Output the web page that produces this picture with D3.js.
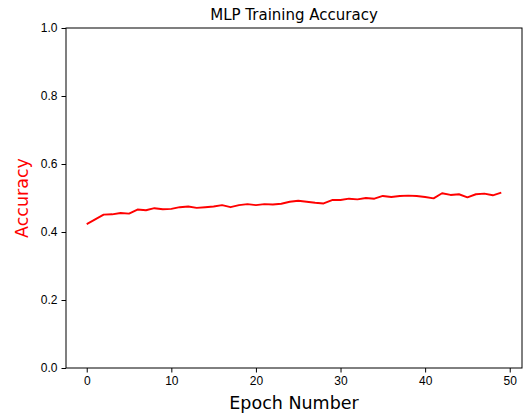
<!DOCTYPE html>
<html>
<head>
<meta charset="utf-8" />
<title>MLP Training Accuracy</title>
<script src="https://cdn.jsdelivr.net/npm/d3@7"></script>
<style>
	body { margin: 0; background: #fff; }
	svg { font-family: "DejaVu Sans", sans-serif; }
	.axis text { font-size: 12px; fill: #000; }
	.axis path, .axis line { stroke: #000; stroke-width: 1; }
</style>
</head>
<body>
<script>
// datos
var epochs = d3.range(0, 50);
var accuracy = [
	0.423, 0.437, 0.451, 0.452, 0.456, 0.454, 0.466, 0.464, 0.470, 0.467,
	0.468, 0.473, 0.475, 0.471, 0.473, 0.475, 0.479, 0.473, 0.479, 0.482,
	0.479, 0.482, 0.481, 0.483, 0.489, 0.492, 0.489, 0.486, 0.484, 0.494,
	0.494, 0.498, 0.496, 0.500, 0.498, 0.506, 0.503, 0.506, 0.507, 0.506,
	0.503, 0.499, 0.514, 0.509, 0.511, 0.502, 0.511, 0.513, 0.508, 0.516
];
var xTicks = [0, 10, 20, 30, 40, 50];
var yTicks = [0.0, 0.2, 0.4, 0.6, 0.8, 1.0];

var svg = d3.select("body").append("svg")
	.attr("width", 524)
	.attr("height", 417);

var margin = {top: 28, right: 2, bottom: 49, left: 66},
	width = 524 - margin.left - margin.right,
	height = 417 - margin.top - margin.bottom,
	g = svg.append("g").attr("transform", "translate(" + margin.left + "," + margin.top + ")");

// margen del 5% como matplotlib
var pad = (epochs.length - 1) * 0.05;
var x = d3.scaleLinear()
	.domain([-pad, epochs.length - 1 + pad])
	.range([0, width]);

var y = d3.scaleLinear()
	.domain([0, 1])
	.range([height, 0]);

// Eje X
g.append("g")
	.attr("class", "axis")
	.attr("transform", "translate(0," + height + ")")
	.call(d3.axisBottom(x).tickValues(xTicks).tickSize(4.5).tickPadding(4).tickFormat(d3.format("d")))
	.call(function(a) { a.select(".domain").remove(); });

// Eje Y
g.append("g")
	.attr("class", "axis")
	.call(d3.axisLeft(y).tickValues(yTicks).tickSize(4.5).tickPadding(4).tickFormat(d3.format(".1f")))
	.call(function(a) { a.select(".domain").remove(); });

// marco
g.append("rect")
	.attr("x", 0).attr("y", 0)
	.attr("width", width).attr("height", height)
	.attr("fill", "none")
	.attr("stroke", "#000")
	.attr("stroke-width", 1);

// linea
var line = d3.line()
	.x(function(d, i) { return x(epochs[i]); })
	.y(function(d) { return y(d); });

g.append("path")
	.datum(accuracy)
	.attr("fill", "none")
	.attr("stroke", "red")
	.attr("stroke-width", 1.9)
	.attr("stroke-linejoin", "round")
	.attr("d", line);

// titulo
svg.append("text")
	.attr("x", margin.left + width / 2)
	.attr("y", 20)
	.attr("text-anchor", "middle")
	.style("font-size", "15px")
	.text("MLP Training Accuracy");

svg.append("text")
	.attr("x", margin.left + width / 2)
	.attr("y", 409)
	.attr("text-anchor", "middle")
	.style("font-size", "17.5px")
	.text("Epoch Number");

svg.append("text")
	.attr("transform", "translate(28," + (margin.top + height / 2) + ") rotate(-90)")
	.attr("text-anchor", "middle")
	.attr("fill", "red")
	.style("font-size", "17.5px")
	.text("Accuracy");
</script>
</body>
</html>
